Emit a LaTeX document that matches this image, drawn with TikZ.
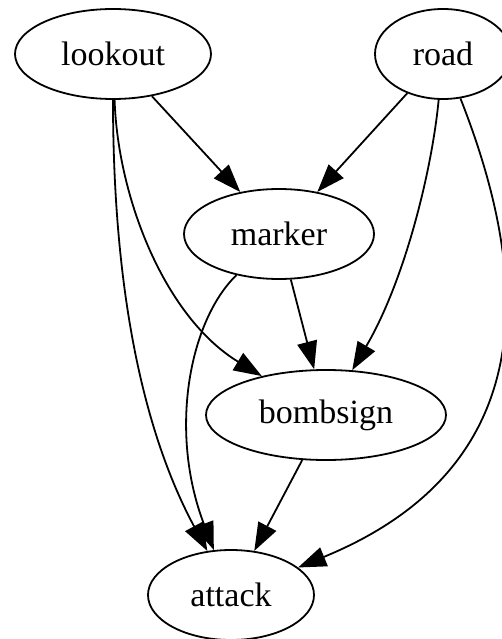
\documentclass[tikz,border=0pt]{standalone}
\usepackage{fontspec}
\setmainfont{Liberation Serif}
\usetikzlibrary{arrows.meta,shapes.geometric}
\begin{document}
\begin{tikzpicture}[x=1pt,y=-1pt,
  nd/.style={draw,ellipse,line width=1.8pt,inner sep=0pt,font=\fontsize{34}{40}\selectfont},
  edge/.style={line width=1.8pt,-{Triangle[length=28pt,width=20pt]}}]
\useasboundingbox (0,0) rectangle (502,639);
\node[nd,minimum width=196pt,minimum height=90pt] (lookout) at (113,54) {lookout};
\node[nd,minimum width=136pt,minimum height=90pt] (road) at (443,54) {road};
\node[nd,minimum width=190pt,minimum height=90pt] (marker) at (279,234) {marker};
\node[nd,minimum width=240pt,minimum height=90pt] (bombsign) at (326,415) {bombsign};
\node[nd,minimum width=166pt,minimum height=90pt] (attack) at (231,595) {attack};
\draw[edge] (lookout) -- (marker);
\draw[edge] (road) -- (marker);
\draw[edge] (marker) -- (bombsign);
\draw[edge] (road) .. controls (432,170) and (405,280) .. (bombsign);
\draw[edge] (lookout) .. controls (113,320) and (153,450) .. (attack);
\draw[edge] (lookout) .. controls (118,200) and (166,318) .. (bombsign);
\draw[edge] (marker) .. controls (190,320) and (168,430) .. (attack);
\draw[edge] (bombsign) -- (attack);
\draw[edge] (road) .. controls (520,250) and (560,460) .. (attack);
\end{tikzpicture}
\end{document}
